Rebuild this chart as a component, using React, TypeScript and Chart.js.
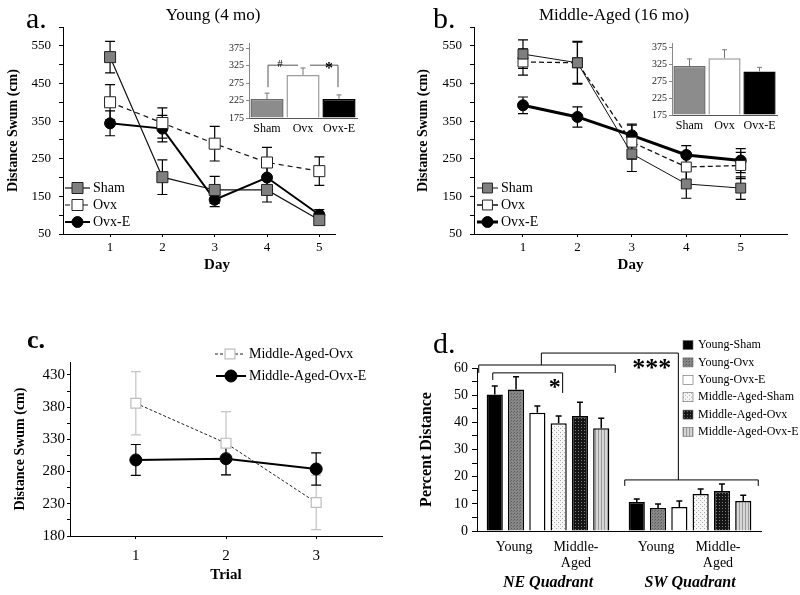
import React, { useEffect, useRef } from "react";
import { Chart, registerables } from "chart.js";

Chart.register(...registerables);

const SERIF = "'Liberation Serif', 'Times New Roman', Times, serif";
Chart.defaults.font.family = SERIF;
Chart.defaults.color = "#000";

// ---------------- Panel a: Young (4 mo) ----------------
const dayLabels = [1, 2, 3, 4, 5];
const youngSham = [520, 201, 167, 167, 87];
const youngShamErr = [42, 46, 36, 32, 12];
const youngOvx = [400, 345, 290, 240, 217];
const youngOvxErr = [47, 40, 46, 40, 38];
const youngOvxE = [344, 330, 141, 200, 101];
const youngOvxEErr = [33, 35, 18, 30, 14];
const distanceTicks = [50, 150, 250, 350, 450, 550];

// inset a (totals)
const groupLabels = ["Sham", "Ovx", "Ovx-E"];
const youngTotal = [229, 298, 229];
const youngTotalErr = [17, 20, 12];
const insetTicks = [175, 225, 275, 325, 375];

// ---------------- Panel b: Middle-Aged (16 mo) ----------------
const midSham = [528, 505, 263, 183, 172];
const midShamErr = [38, 57, 47, 38, 30];
const midOvx = [507, 505, 294, 228, 232];
const midOvxErr = [35, 55, 45, 35, 35];
const midOvxE = [392, 361, 312, 260, 245];
const midOvxEErr = [22, 27, 30, 25, 32];
const midTotal = [320, 343, 304];
const midTotalErr = [21, 25, 12];

// ---------------- Panel c: trials ----------------
const trialLabels = [1, 2, 3];
const trialOvx = [386, 324, 232];
const trialOvxErr = [49, 49, 42];
const trialOvxE = [298, 300, 284];
const trialOvxEErr = [24, 25, 25];
const trialTicks = [180, 230, 280, 330, 380, 430];

// ---------------- Panel d: percent distance ----------------
const quadrants = ["NE Quadrant", "SW Quadrant"];
const groupNames = ["Young-Sham", "Young-Ovx", "Young-Ovx-E", "Middle-Aged-Sham", "Middle-Aged-Ovx", "Middle-Aged-Ovx-E"];
const pctYoungSham = [50.2, 10.7];
const pctYoungOvx = [52.1, 8.5];
const pctYoungOvxE = [43.5, 8.8];
const pctMidSham = [39.7, 13.6];
const pctMidOvx = [42.3, 14.7];
const pctMidOvxE = [37.8, 11.0];
const pctYoungShamErr = [3.2, 1.1];
const pctYoungOvxErr = [4.7, 1.4];
const pctYoungOvxEErr = [2.5, 2.2];
const pctMidShamErr = [2.6, 1.9];
const pctMidOvxErr = [5.1, 2.6];
const pctMidOvxEErr = [3.7, 2.2];
const percentTicks = [0, 10, 20, 30, 40, 50, 60];

// ---------------- helpers ----------------
type Box = { left: number; top: number; width: number; height: number };
type Area = { l: number; t: number; r: number; b: number };

const frame = (box: Box, area: Area) => ({
  padding: { left: 0, top: area.t - box.top, right: box.left + box.width - area.r, bottom: 0 },
  yWidth: area.l - box.left,
  xHeight: box.top + box.height - area.b,
});

function stepTicks(min: number, max: number, step: number) {
  const out: { value: number }[] = [];
  for (let v = min; v <= max + 1e-9; v += step) out.push({ value: Math.round(v * 1000) / 1000 });
  return out;
}

const fnt = (size: number, weight = "normal", style = "normal") => ({ family: SERIF, size, weight, style });

function drawErrors(chart: any) {
  const ctx = chart.ctx;
  const yScale = chart.scales.y;
  chart.data.datasets.forEach((ds: any, i: number) => {
    if (!ds.errors) return;
    const meta = chart.getDatasetMeta(i);
    ctx.save();
    ctx.strokeStyle = ds.errorColor || "#000";
    ctx.lineWidth = ds.errorWidth || 1.2;
    const cap = ds.errorCap ?? 5;
    meta.data.forEach((el: any, j: number) => {
      const d = ds.data[j];
      const v = typeof d === "number" ? d : d.y;
      const e = ds.errors[j];
      const x = el.x;
      const yTop = yScale.getPixelForValue(v + e);
      const yBot = yScale.getPixelForValue(ds.errorUpOnly ? v : v - e);
      ctx.beginPath();
      ctx.moveTo(x, yTop);
      ctx.lineTo(x, yBot);
      ctx.moveTo(x - cap, yTop);
      ctx.lineTo(x + cap, yTop);
      if (!ds.errorUpOnly) {
        ctx.moveTo(x - cap, yBot);
        ctx.lineTo(x + cap, yBot);
      }
      ctx.stroke();
    });
    ctx.restore();
  });
}

const errorBarPlugin = {
  id: "errorBars",
  beforeDatasetsDraw(chart: any) {
    if (!chart.options.plugins.errorBars?.onTop) drawErrors(chart);
  },
  afterDatasetsDraw(chart: any) {
    if (chart.options.plugins.errorBars?.onTop) drawErrors(chart);
  },
};

function label(ctx: CanvasRenderingContext2D, s: string, x: number, y: number, size: number,
  align: CanvasTextAlign = "left", baseline: CanvasTextBaseline = "middle", weight = "normal", style = "normal") {
  ctx.save();
  ctx.fillStyle = "#000";
  ctx.font = `${style} ${weight} ${size}px ${SERIF}`;
  ctx.textAlign = align;
  ctx.textBaseline = baseline;
  ctx.fillText(s, x, y);
  ctx.restore();
}

function marker(ctx: CanvasRenderingContext2D, x: number, y: number, ds: any) {
  const r = ds.pointRadius;
  ctx.save();
  ctx.fillStyle = ds.pointBackgroundColor;
  ctx.strokeStyle = ds.pointBorderColor;
  ctx.lineWidth = ds.pointBorderWidth;
  ctx.setLineDash([]);
  ctx.beginPath();
  if (ds.pointStyle === "rect") {
    const s = r * Math.SQRT1_2;
    ctx.rect(x - s, y - s, 2 * s, 2 * s);
  } else {
    ctx.arc(x, y, r, 0, Math.PI * 2);
  }
  ctx.fill();
  ctx.stroke();
  ctx.restore();
}

function legendRow(ctx: CanvasRenderingContext2D, ds: any, x1: number, x2: number, y: number, textX: number, size: number) {
  ctx.save();
  ctx.strokeStyle = ds.borderColor;
  ctx.lineWidth = ds.borderWidth;
  ctx.setLineDash(ds.borderDash || []);
  ctx.beginPath();
  ctx.moveTo(x1, y);
  ctx.lineTo(x2, y);
  ctx.stroke();
  ctx.restore();
  marker(ctx, (x1 + x2) / 2, y, ds);
  label(ctx, ds.label, textX, y, size, "left", "middle");
}

function path(ctx: CanvasRenderingContext2D, pts: number[][]) {
  ctx.beginPath();
  pts.forEach(([x, y], i) => (i ? ctx.lineTo(x, y) : ctx.moveTo(x, y)));
  ctx.stroke();
}

const pts = (xs: number[], ys: number[]) => xs.map((x, i) => ({ x, y: ys[i] }));

// Helpers giving page coordinates of chart elements / values
type Geo = {
  bx: (i: number, j: number) => number;
  py: (v: number) => number;
  cx: (j: number) => number;
};

function decoPlugin(box: Box, deco: (ctx: CanvasRenderingContext2D, g: Geo, chart: any) => void) {
  return {
    id: "deco",
    afterDraw(chart: any) {
      const ctx = chart.ctx;
      const g: Geo = {
        bx: (i, j) => chart.getDatasetMeta(i).data[j].x + box.left,
        py: (v) => chart.scales.y.getPixelForValue(v) + box.top,
        cx: (j) => chart.scales.x.getPixelForValue(j) + box.left,
      };
      ctx.save();
      ctx.translate(-box.left, -box.top);
      deco(ctx, g, chart);
      ctx.restore();
    },
  };
}

interface LineOpts {
  box: Box; area: Area; datasets: any[];
  xTicks: number[]; xMin: number; xMax: number;
  yMin: number; yMax: number; yLabels: number[]; yStep: number;
  tickSize: number; yTickPad: number; yTickLen: number; xTickPad: number;
  yTitle: string; yTitleSize: number; yTitlePad: number;
  xTitle?: string; xTitleSize?: number; xTitlePad?: number;
  deco: (ctx: CanvasRenderingContext2D, g: Geo, chart: any) => void;
}

function lineConfig(o: LineOpts): any {
  const fr = frame(o.box, o.area);
  return {
    type: "line",
    data: { datasets: o.datasets },
    options: {
      responsive: false,
      animation: false,
      events: [],
      layout: { padding: fr.padding },
      plugins: { legend: { display: false }, tooltip: { enabled: false }, errorBars: { onTop: false } },
      scales: {
        x: {
          type: "linear",
          min: o.xMin,
          max: o.xMax,
          afterBuildTicks: (s: any) => { s.ticks = o.xTicks.map((v) => ({ value: v })); },
          afterFit: (s: any) => { s.height = fr.xHeight; },
          ticks: { font: fnt(o.tickSize), color: "#000", padding: o.xTickPad, autoSkip: false, maxRotation: 0, callback: (v: any) => String(v) },
          grid: { drawOnChartArea: false, drawTicks: true, tickLength: 3, tickColor: "#000", tickWidth: 1 },
          border: { display: true, color: "#000", width: 1 },
          title: o.xTitle
            ? { display: true, text: o.xTitle, font: fnt(o.xTitleSize || 15, "bold"), color: "#000", padding: { top: 0, bottom: o.xTitlePad || 0 } }
            : { display: false },
        },
        y: {
          type: "linear",
          min: o.yMin,
          max: o.yMax,
          afterBuildTicks: (s: any) => { s.ticks = stepTicks(o.yMin, o.yMax, o.yStep); },
          afterFit: (s: any) => { s.width = fr.yWidth; },
          ticks: {
            font: fnt(o.tickSize), color: "#000", padding: o.yTickPad, autoSkip: false,
            callback: (v: any) => (o.yLabels.includes(v) ? String(v) : ""),
          },
          grid: { drawOnChartArea: false, drawTicks: true, tickLength: o.yTickLen, tickColor: "#000", tickWidth: 1 },
          border: { display: true, color: "#000", width: 1 },
          title: { display: true, text: o.yTitle, font: fnt(o.yTitleSize, "bold"), color: "#000", padding: { top: o.yTitlePad, bottom: 0 } },
        },
      },
    },
    plugins: [errorBarPlugin, decoPlugin(o.box, o.deco)],
  };
}

interface InsetOpts {
  box: Box; area: Area; values: number[]; errors: number[];
  deco?: (ctx: CanvasRenderingContext2D, g: Geo, chart: any) => void;
}

function insetConfig(o: InsetOpts): any {
  const fr = frame(o.box, o.area);
  return {
    type: "bar",
    data: {
      labels: groupLabels,
      datasets: [{
        data: o.values,
        errors: o.errors,
        errorUpOnly: true,
        errorColor: "#777",
        errorWidth: 1,
        errorCap: 2.5,
        backgroundColor: ["#8c8c8c", "#ffffff", "#000000"],
        borderColor: ["#6a6a6a", "#9c9c9c", "#000000"],
        borderWidth: 1.5,
        base: 175,
        barPercentage: 0.92,
        categoryPercentage: 1,
      }],
    },
    options: {
      responsive: false,
      animation: false,
      events: [],
      layout: { padding: fr.padding },
      plugins: { legend: { display: false }, tooltip: { enabled: false }, errorBars: { onTop: true } },
      scales: {
        x: {
          type: "category",
          offset: true,
          afterFit: (s: any) => { s.height = fr.xHeight; },
          ticks: { font: fnt(12), color: "#000", padding: 4, autoSkip: false, maxRotation: 0 },
          grid: { drawOnChartArea: false, drawTicks: false },
          border: { display: true, color: "#555", width: 1 },
        },
        y: {
          type: "linear",
          min: 175,
          max: 388,
          afterBuildTicks: (s: any) => { s.ticks = insetTicks.map((v) => ({ value: v })); },
          afterFit: (s: any) => { s.width = fr.yWidth; },
          ticks: { font: fnt(10), color: "#222", padding: 2, autoSkip: false },
          grid: { drawOnChartArea: false, drawTicks: true, tickLength: 3, tickColor: "#888" },
          border: { display: true, color: "#888", width: 1 },
        },
      },
    },
    plugins: [errorBarPlugin, decoPlugin(o.box, o.deco || (() => {}))],
  };
}

function makePattern(ctx: CanvasRenderingContext2D, size: number, bg: string, dots: [number, number, string][]) {
  const c = document.createElement("canvas");
  c.width = size;
  c.height = size;
  const g = c.getContext("2d")!;
  g.fillStyle = bg;
  g.fillRect(0, 0, size, size);
  dots.forEach(([x, y, col]) => {
    g.fillStyle = col;
    g.fillRect(x, y, 1, 1);
  });
  return ctx.createPattern(c, "repeat")!;
}

function ChartBox({ box, build }: { box: Box; build: (ctx: CanvasRenderingContext2D) => any }) {
  const ref = useRef<HTMLCanvasElement | null>(null);
  useEffect(() => {
    const canvas = ref.current;
    if (!canvas) return;
    const ctx = canvas.getContext("2d")!;
    const chart = new Chart(ctx, build(ctx));
    return () => chart.destroy();
  }, []);
  return (
    <canvas
      ref={ref}
      width={box.width}
      height={box.height}
      style={{ position: "absolute", left: box.left, top: box.top, width: box.width, height: box.height }}
    />
  );
}

// ---------------- panel boxes ----------------
const boxA: Box = { left: 0, top: 0, width: 400, height: 290 };
const areaA: Area = { l: 63, t: 27, r: 335, b: 234 };
const boxB: Box = { left: 400, top: 0, width: 400, height: 290 };
const areaB: Area = { l: 474, t: 27, r: 787, b: 234 };
const boxIA: Box = { left: 215, top: 30, width: 150, height: 110 };
const areaIA: Area = { l: 249, t: 43.5, r: 357, b: 118 };
const boxIB: Box = { left: 640, top: 30, width: 160, height: 110 };
const areaIB: Area = { l: 672, t: 43, r: 777, b: 115 };
const boxC: Box = { left: 0, top: 300, width: 400, height: 295 };
const areaC: Area = { l: 70, t: 362, r: 382, b: 536 };
const boxD: Box = { left: 400, top: 300, width: 400, height: 295 };
const areaD: Area = { l: 477, t: 368, r: 761, b: 531 };

const shamStyle = (lw: number, r: number) => ({
  borderColor: "#111", borderWidth: lw, pointStyle: "rect", pointRadius: r,
  pointBackgroundColor: "#7f7f7f", pointBorderColor: "#222", pointBorderWidth: 1, fill: false, tension: 0,
});
const ovxStyle = (lw: number, r: number, dash: number[]) => ({
  borderColor: "#111", borderWidth: lw, borderDash: dash, pointStyle: "rect", pointRadius: r,
  pointBackgroundColor: "#ffffff", pointBorderColor: "#222", pointBorderWidth: 1, fill: false, tension: 0,
});
const ovxEStyle = (lw: number, r: number) => ({
  borderColor: "#000", borderWidth: lw, pointStyle: "circle", pointRadius: r,
  pointBackgroundColor: "#000", pointBorderColor: "#000", pointBorderWidth: 1, fill: false, tension: 0,
});

function buildA() {
  const datasets = [
    { label: "Sham", data: pts(dayLabels, youngSham), errors: youngShamErr, ...shamStyle(1.2, 7.8) },
    { label: "Ovx", data: pts(dayLabels, youngOvx), errors: youngOvxErr, ...ovxStyle(1.2, 7.8, [5, 4]) },
    { label: "Ovx-E", data: pts(dayLabels, youngOvxE), errors: youngOvxEErr, ...ovxEStyle(2, 5.5) },
  ];
  return lineConfig({
    box: boxA, area: areaA, datasets,
    xTicks: dayLabels, xMin: 0.1, xMax: 5.3,
    yMin: 50, yMax: 600, yLabels: distanceTicks, yStep: 50,
    tickSize: 13, yTickPad: 8, yTickLen: 4, xTickPad: 3,
    yTitle: "Distance Swum (cm)", yTitleSize: 14, yTitlePad: 5,
    deco: (ctx) => {
      label(ctx, "a.", 26, 28, 30, "left", "alphabetic");
      label(ctx, "Young (4 mo)", 213, 16, 17, "center", "middle");
      label(ctx, "Day", 217, 265, 15, "center", "middle", "bold");
      legendRow(ctx, datasets[0], 65, 90, 188, 93, 14);
      legendRow(ctx, datasets[1], 65, 90, 205, 93, 14);
      legendRow(ctx, datasets[2], 65, 90, 222, 93, 14);
    },
  });
}

function buildB() {
  const datasets = [
    { label: "Sham", data: pts(dayLabels, midSham), errors: midShamErr, ...shamStyle(1, 7) },
    { label: "Ovx", data: pts(dayLabels, midOvx), errors: midOvxErr, ...ovxStyle(1.3, 7, [5, 3]) },
    { label: "Ovx-E", data: pts(dayLabels, midOvxE), errors: midOvxEErr, ...ovxEStyle(3, 5.5) },
  ];
  return lineConfig({
    box: boxB, area: areaB, datasets,
    xTicks: dayLabels, xMin: 0.1, xMax: 5.85,
    yMin: 50, yMax: 600, yLabels: distanceTicks, yStep: 50,
    tickSize: 13, yTickPad: 8, yTickLen: 4, xTickPad: 3,
    yTitle: "Distance Swum (cm)", yTitleSize: 14, yTitlePad: 14.5,
    xTitle: "Day", xTitleSize: 15, xTitlePad: 16,
    deco: (ctx) => {
      label(ctx, "b.", 433, 28, 30, "left", "alphabetic");
      label(ctx, "Middle-Aged (16 mo)", 614, 16, 17, "center", "middle");
      legendRow(ctx, datasets[0], 477, 498, 188, 501, 14);
      legendRow(ctx, datasets[1], 477, 498, 205, 501, 14);
      legendRow(ctx, datasets[2], 477, 498, 222, 501, 14);
    },
  });
}

function buildIA() {
  return insetConfig({
    box: boxIA, area: areaIA, values: youngTotal, errors: youngTotalErr,
    deco: (ctx, g) => {
      const yTop = g.py(326);
      const yLeg = g.py(263);
      const x0 = g.bx(0, 0);
      const x1 = g.bx(0, 1);
      const x2 = g.bx(0, 2);
      ctx.save();
      ctx.strokeStyle = "#555";
      ctx.lineWidth = 1;
      path(ctx, [[x0 + 1, yLeg], [x0 + 1, yTop], [x1 - 5, yTop]]);
      path(ctx, [[x1 + 7, yTop], [x2 - 1, yTop], [x2 - 1, yLeg]]);
      ctx.restore();
      label(ctx, "#", (x0 + x1) / 2 - 5, yTop + 2, 11, "center", "alphabetic");
      label(ctx, "*", (x1 + x2) / 2 + 8, yTop + 8, 16, "center", "alphabetic", "bold");
    },
  });
}

function buildIB() {
  return insetConfig({ box: boxIB, area: areaIB, values: midTotal, errors: midTotalErr });
}

function buildC() {
  const datasets = [
    {
      label: "Middle-Aged-Ovx", data: pts(trialLabels, trialOvx), errors: trialOvxErr,
      errorColor: "#c4c4c4", errorWidth: 1.2,
      borderColor: "#222", borderWidth: 1, borderDash: [3, 2], pointStyle: "rect", pointRadius: 7,
      pointBackgroundColor: "#ffffff", pointBorderColor: "#bdbdbd", pointBorderWidth: 1.2, fill: false, tension: 0,
    },
    {
      label: "Middle-Aged-Ovx-E", data: pts(trialLabels, trialOvxE), errors: trialOvxEErr,
      ...ovxEStyle(2, 6),
    },
  ];
  return lineConfig({
    box: boxC, area: areaC, datasets,
    xTicks: trialLabels, xMin: 0.27, xMax: 3.73,
    yMin: 180, yMax: 450, yLabels: trialTicks, yStep: 25,
    tickSize: 15, yTickPad: 2, yTickLen: 3, xTickPad: 8,
    yTitle: "Distance Swum (cm)", yTitleSize: 14, yTitlePad: 11.6,
    xTitle: "Trial", xTitleSize: 15, xTitlePad: 11,
    deco: (ctx) => {
      label(ctx, "c.", 27, 348, 26, "left", "alphabetic", "bold");
      legendRow(ctx, datasets[0], 215, 245, 354, 249, 14);
      legendRow(ctx, datasets[1], 216, 246, 376, 249, 14);
    },
  });
}

function buildD(ctx0: CanvasRenderingContext2D) {
  const fills: any[] = [
    "#000000",
    makePattern(ctx0, 3, "#878787", [[0, 0, "#5c5c5c"], [2, 1, "#6a6a6a"]]),
    "#ffffff",
    makePattern(ctx0, 4, "#f6f6f6", [[0, 0, "#a9a9a9"], [2, 2, "#a9a9a9"]]),
    makePattern(ctx0, 3, "#141414", [[1, 1, "#7a7a7a"]]),
    makePattern(ctx0, 3, "#d6d6d6", [[0, 0, "#9a9a9a"], [0, 1, "#9a9a9a"], [0, 2, "#9a9a9a"]]),
  ];
  const values = [pctYoungSham, pctYoungOvx, pctYoungOvxE, pctMidSham, pctMidOvx, pctMidOvxE];
  const errs = [pctYoungShamErr, pctYoungOvxErr, pctYoungOvxEErr, pctMidShamErr, pctMidOvxErr, pctMidOvxEErr];
  const fr = frame(boxD, areaD);
  const datasets = groupNames.map((name, i) => ({
    label: name,
    data: values[i],
    errors: errs[i],
    errorUpOnly: true,
    errorCap: 3,
    errorWidth: 1.5,
    backgroundColor: fills[i],
    borderColor: "#000",
    borderWidth: 1.5,
    barPercentage: 0.76,
    categoryPercentage: 0.9,
  }));
  const deco = (ctx: CanvasRenderingContext2D, g: Geo) => {
    const { bx, py } = g;
    label(ctx, "d.", 433, 353, 30, "left", "alphabetic");
    // significance brackets
    ctx.save();
    ctx.strokeStyle = "#000";
    ctx.lineWidth = 1;
    const yTop = py(61.1);
    const yLeg = py(58.2);
    const oL = bx(0, 0) - 16;
    const oR = bx(5, 0) + 14;
    path(ctx, [[oL, yLeg], [oL, yTop], [oR, yTop], [oR, yLeg]]);
    const rL = bx(2, 0) + 4;
    const rR = bx(2, 1) - 1;
    const ySW = py(18.8);
    path(ctx, [[rL, yTop], [rL, py(65.5)], [rR, py(65.5)], [rR, ySW]]);
    const sL = bx(0, 1) - 12;
    const sR = bx(5, 1) + 15;
    path(ctx, [[sL, py(16.6)], [sL, ySW], [sR, ySW], [sR, py(16.6)]]);
    const iL = bx(0, 0) - 2;
    const iR = bx(3, 0) + 4;
    path(ctx, [[iL, py(55.6)], [iL, yLeg], [iR, yLeg], [iR, py(50.8)]]);
    ctx.restore();
    label(ctx, "*", bx(3, 0) - 4, py(54.8) + 12, 24, "center", "alphabetic", "bold");
    label(ctx, "***", bx(0, 1) + 15, py(61.8) + 13, 26, "center", "alphabetic", "bold");
    // category labels
    quadrants.forEach((q, j) => {
      label(ctx, "Young", bx(1, j) - 2, 547, 14, "center", "middle");
      label(ctx, "Middle-", bx(4, j) - 4, 547, 14, "center", "middle");
      label(ctx, "Aged", bx(4, j) - 4, 563, 14, "center", "middle");
      label(ctx, q, g.cx(j), 583, 16, "center", "middle", "bold", "italic");
    });
    // legend
    groupNames.forEach((name, i) => {
      const y = 345 + i * 17.4;
      ctx.save();
      ctx.translate(683, y - 4.5);
      ctx.fillStyle = fills[i];
      ctx.fillRect(0, 0, 10, 9);
      ctx.strokeStyle = "#666";
      ctx.lineWidth = 0.6;
      ctx.strokeRect(0, 0, 10, 9);
      ctx.restore();
      label(ctx, name, 698, y, 12, "left", "middle");
    });
  };
  return {
    type: "bar",
    data: { labels: quadrants, datasets },
    options: {
      responsive: false,
      animation: false,
      events: [],
      layout: { padding: fr.padding },
      plugins: { legend: { display: false }, tooltip: { enabled: false }, errorBars: { onTop: true } },
      scales: {
        x: {
          type: "category",
          offset: true,
          afterFit: (s: any) => { s.height = fr.xHeight; },
          ticks: { display: false },
          grid: { drawOnChartArea: false, drawTicks: false },
          border: { display: true, color: "#000", width: 1 },
        },
        y: {
          type: "linear",
          min: 0,
          max: 60,
          afterBuildTicks: (s: any) => { s.ticks = stepTicks(0, 60, 5); },
          afterFit: (s: any) => { s.width = fr.yWidth; },
          ticks: {
            font: fnt(14), color: "#000", padding: 4, autoSkip: false,
            callback: (v: any) => (percentTicks.includes(v) ? String(v) : ""),
          },
          grid: { drawOnChartArea: false, drawTicks: true, tickLength: 5, tickColor: "#000" },
          border: { display: true, color: "#000", width: 1 },
          title: { display: true, text: "Percent Distance", font: fnt(16, "bold"), color: "#000", padding: { top: 17, bottom: 0 } },
        },
      },
    },
    plugins: [errorBarPlugin, decoPlugin(boxD, deco)],
  };
}

export default function App() {
  return (
    <div style={{ position: "absolute", left: 0, top: 0, width: 800, height: 595, background: "#fff", overflow: "hidden" }}>
      <ChartBox box={boxA} build={buildA} />
      <ChartBox box={boxB} build={buildB} />
      <ChartBox box={boxC} build={buildC} />
      <ChartBox box={boxD} build={buildD} />
      <ChartBox box={boxIA} build={buildIA} />
      <ChartBox box={boxIB} build={buildIB} />
    </div>
  );
}
